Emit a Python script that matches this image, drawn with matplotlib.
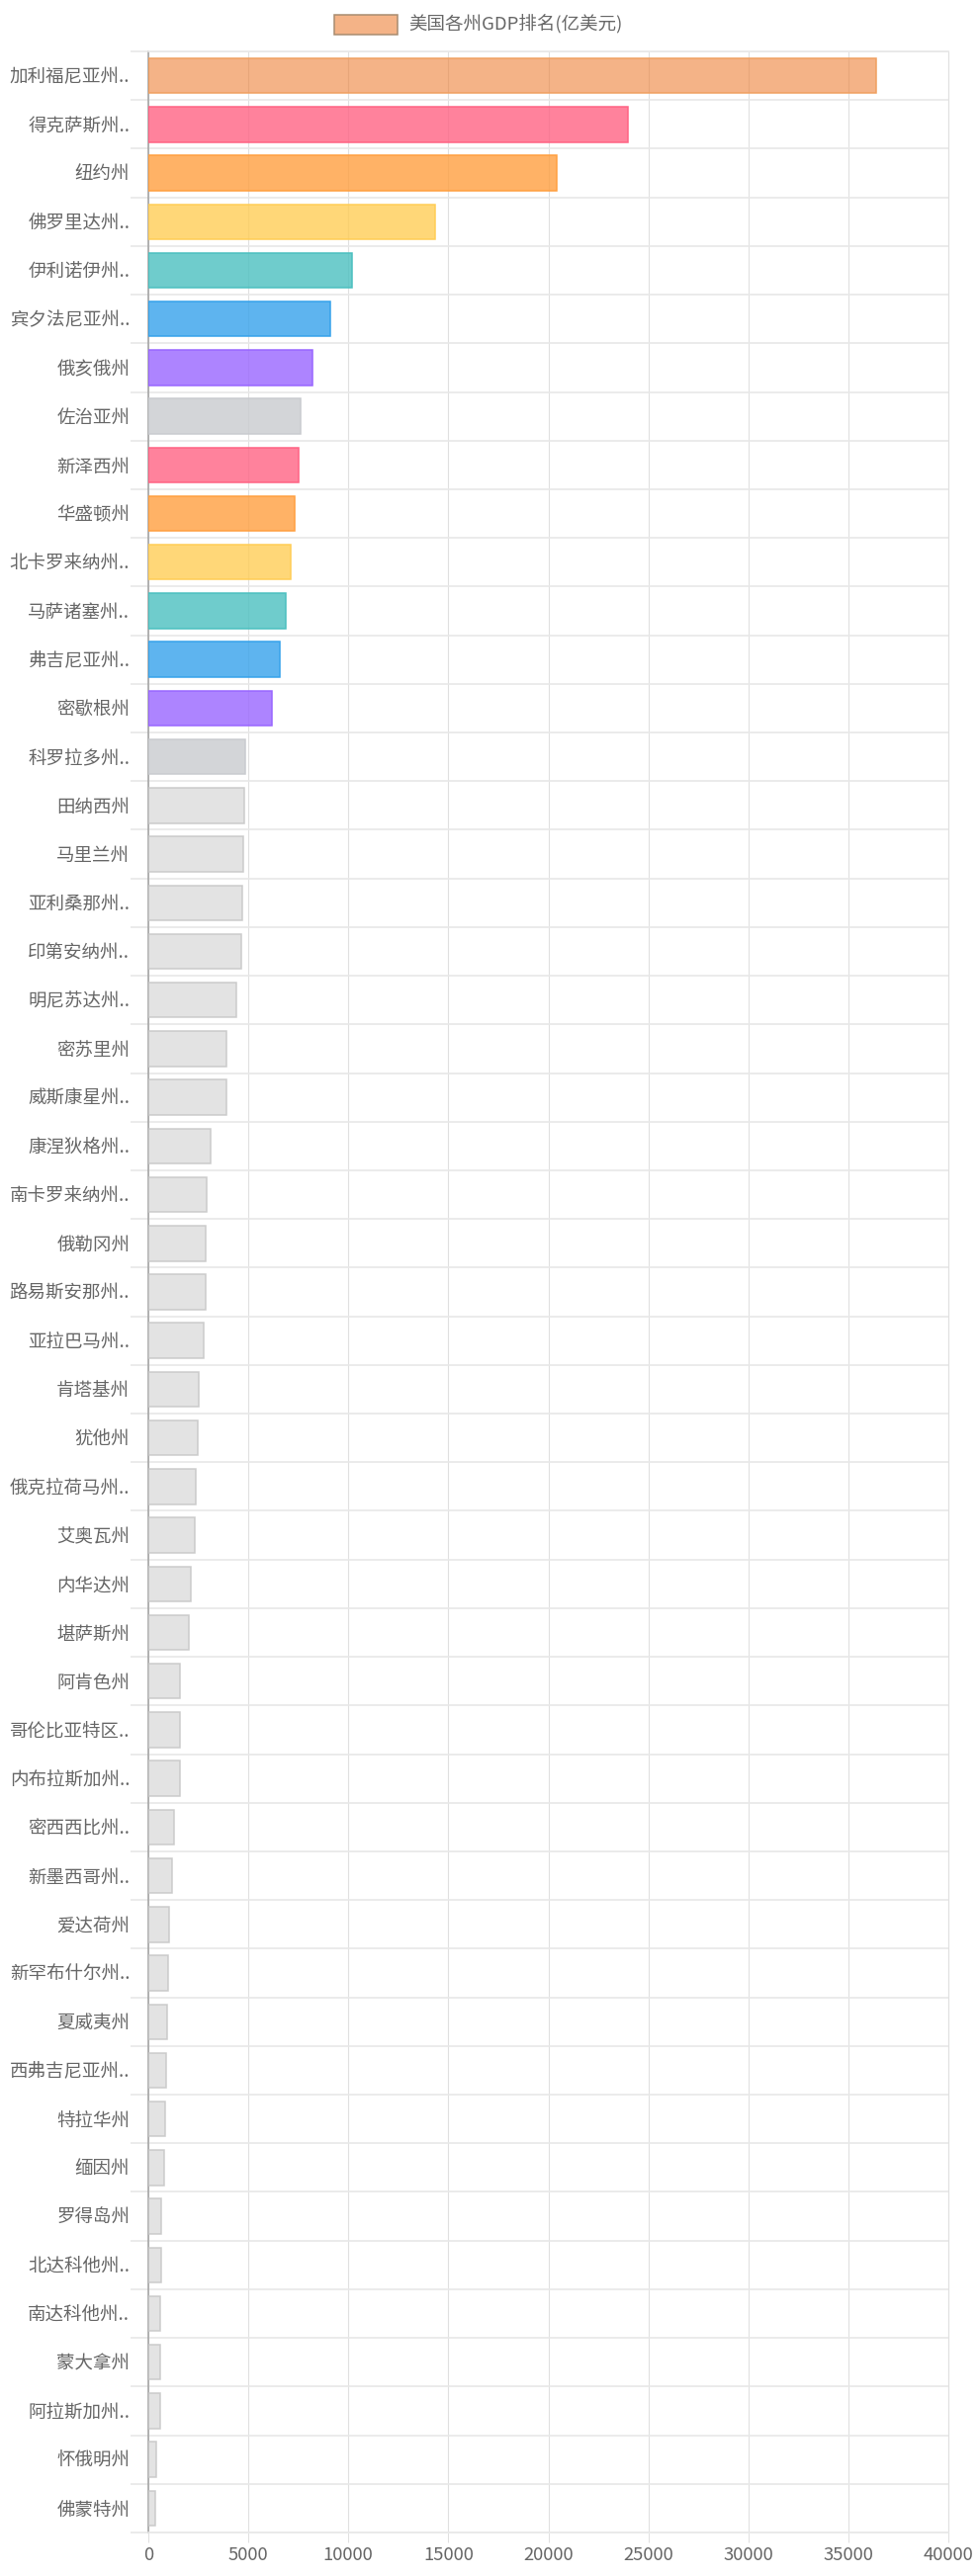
import matplotlib
matplotlib.use("Agg")
import matplotlib.pyplot as plt
from matplotlib.patches import Rectangle
from matplotlib.ticker import MultipleLocator, FixedLocator

plt.rcParams['font.family'] = ['Noto Sans CJK SC', 'DejaVu Sans']

# ---------------- data ----------------
legend_label = "美国各州GDP排名(亿美元)"

states = [
    "加利福尼亚州..", "得克萨斯州..", "纽约州", "佛罗里达州..", "伊利诺伊州..",
    "宾夕法尼亚州..", "俄亥俄州", "佐治亚州", "新泽西州", "华盛顿州",
    "北卡罗来纳州..", "马萨诸塞州..", "弗吉尼亚州..", "密歇根州", "科罗拉多州..",
    "田纳西州", "马里兰州", "亚利桑那州..", "印第安纳州..", "明尼苏达州..",
    "密苏里州", "威斯康星州..", "康涅狄格州..", "南卡罗来纳州..", "俄勒冈州",
    "路易斯安那州..", "亚拉巴马州..", "肯塔基州", "犹他州", "俄克拉荷马州..",
    "艾奥瓦州", "内华达州", "堪萨斯州", "阿肯色州", "哥伦比亚特区..",
    "内布拉斯加州..", "密西西比州..", "新墨西哥州..", "爱达荷州", "新罕布什尔州..",
    "夏威夷州", "西弗吉尼亚州..", "特拉华州", "缅因州", "罗得岛州",
    "北达科他州..", "南达科他州..", "蒙大拿州", "阿拉斯加州..", "怀俄明州",
    "佛蒙特州",
]

gdp = [
    36400, 24000, 20400, 14330, 10190,
    9080, 8220, 7610, 7500, 7330,
    7120, 6850, 6570, 6190, 4860,
    4790, 4740, 4690, 4640, 4410,
    3900, 3890, 3110, 2910, 2890,
    2850, 2750, 2520, 2480, 2350,
    2300, 2150, 2020, 1580, 1570,
    1560, 1310, 1180, 1040, 990,
    940, 890, 840, 770, 660,
    650, 610, 595, 575, 410,
    330,
]

x_ticks = [0, 5000, 10000, 15000, 20000, 25000, 30000, 35000, 40000]

# ---------------- styling ----------------
W, H = 990, 2606
TEXT = '#666666'

palette_fill = [
    (237/255, 125/255, 49/255, 0.58),   # California
    (255/255, 99/255, 132/255, 0.8),
    (255/255, 159/255, 64/255, 0.8),
    (255/255, 205/255, 86/255, 0.8),
    (75/255, 192/255, 192/255, 0.8),
    (54/255, 162/255, 235/255, 0.8),
    (153/255, 102/255, 255/255, 0.8),
    (201/255, 203/255, 207/255, 0.8),
]
palette_edge = [
    (240/255, 160/255, 96/255, 1.0),
    (255/255, 99/255, 132/255, 1.0),
    (255/255, 159/255, 64/255, 1.0),
    (255/255, 205/255, 86/255, 1.0),
    (75/255, 192/255, 192/255, 1.0),
    (54/255, 162/255, 235/255, 1.0),
    (153/255, 102/255, 255/255, 1.0),
    (201/255, 203/255, 207/255, 1.0),
]
rest_fill = (0.80, 0.80, 0.80, 0.55)
rest_edge = (0.78, 0.78, 0.78, 0.9)

def fill_for(i):
    if i == 0:
        return palette_fill[0]
    if i < 15:
        return palette_fill[1 + (i - 1) % 7]
    return rest_fill

def edge_for(i):
    if i == 0:
        return palette_edge[0]
    if i < 15:
        return palette_edge[1 + (i - 1) % 7]
    return rest_edge

fills = [fill_for(i) for i in range(len(states))]
edges = [edge_for(i) for i in range(len(states))]

fig = plt.figure(figsize=(W / 100, H / 100), dpi=100)
left, right, top, bottom = 150, 959, 52, 2562
ax = fig.add_axes([left / W, (H - bottom) / H, (right - left) / W, (bottom - top) / H])

ypos = list(range(len(states)))
ax.barh(ypos, gdp, height=0.72, color=fills, edgecolor=edges, linewidth=1.1, zorder=3)

ax.set_xlim(0, 40000)
ax.set_ylim(len(states) - 0.5, -0.5)

# x axis
ax.xaxis.set_major_locator(FixedLocator(x_ticks))
ax.set_xticklabels([str(t) for t in x_ticks])
ax.tick_params(axis='x', which='major', length=7, width=0.75, color='#e0e0e0',
               labelsize=13.3, labelcolor=TEXT, pad=3)
ax.grid(axis='x', which='major', color='#e0e0e0', linewidth=0.8, zorder=0)

# y axis
ax.set_yticks(ypos)
ax.set_yticklabels(states)
ax.yaxis.set_minor_locator(FixedLocator([i - 0.5 for i in range(len(states) + 1)]))
ax.tick_params(axis='y', which='major', length=0, labelsize=13.3, labelcolor=TEXT, pad=13.5)
ax.tick_params(axis='y', which='minor', length=13, width=1.2, color='#e8e8e8')
ax.grid(axis='y', which='minor', color='#e8e8e8', linewidth=1.2, zorder=0)
ax.set_axisbelow(True)

for side in ['top', 'bottom']:
    ax.spines[side].set_color('#e8e8e8')
    ax.spines[side].set_linewidth(1.2)
ax.spines['right'].set_color('#e0e0e0')
ax.spines['right'].set_linewidth(0.8)
ax.spines['left'].set_color('#a0a0a0')
ax.spines['left'].set_linewidth(1.1)

# legend (chart.js style, centered on top)
fig.add_artist(Rectangle((338 / W, 1 - 35 / H), 64 / W, 20 / H, transform=fig.transFigure,
                         facecolor=palette_fill[0], edgecolor='#a88c70', linewidth=1.1))
fig.text(413 / W, 1 - 25 / H, legend_label, color=TEXT, fontsize=13.3, va='center', ha='left')

fig.savefig("out.png", dpi=100, facecolor='white')
